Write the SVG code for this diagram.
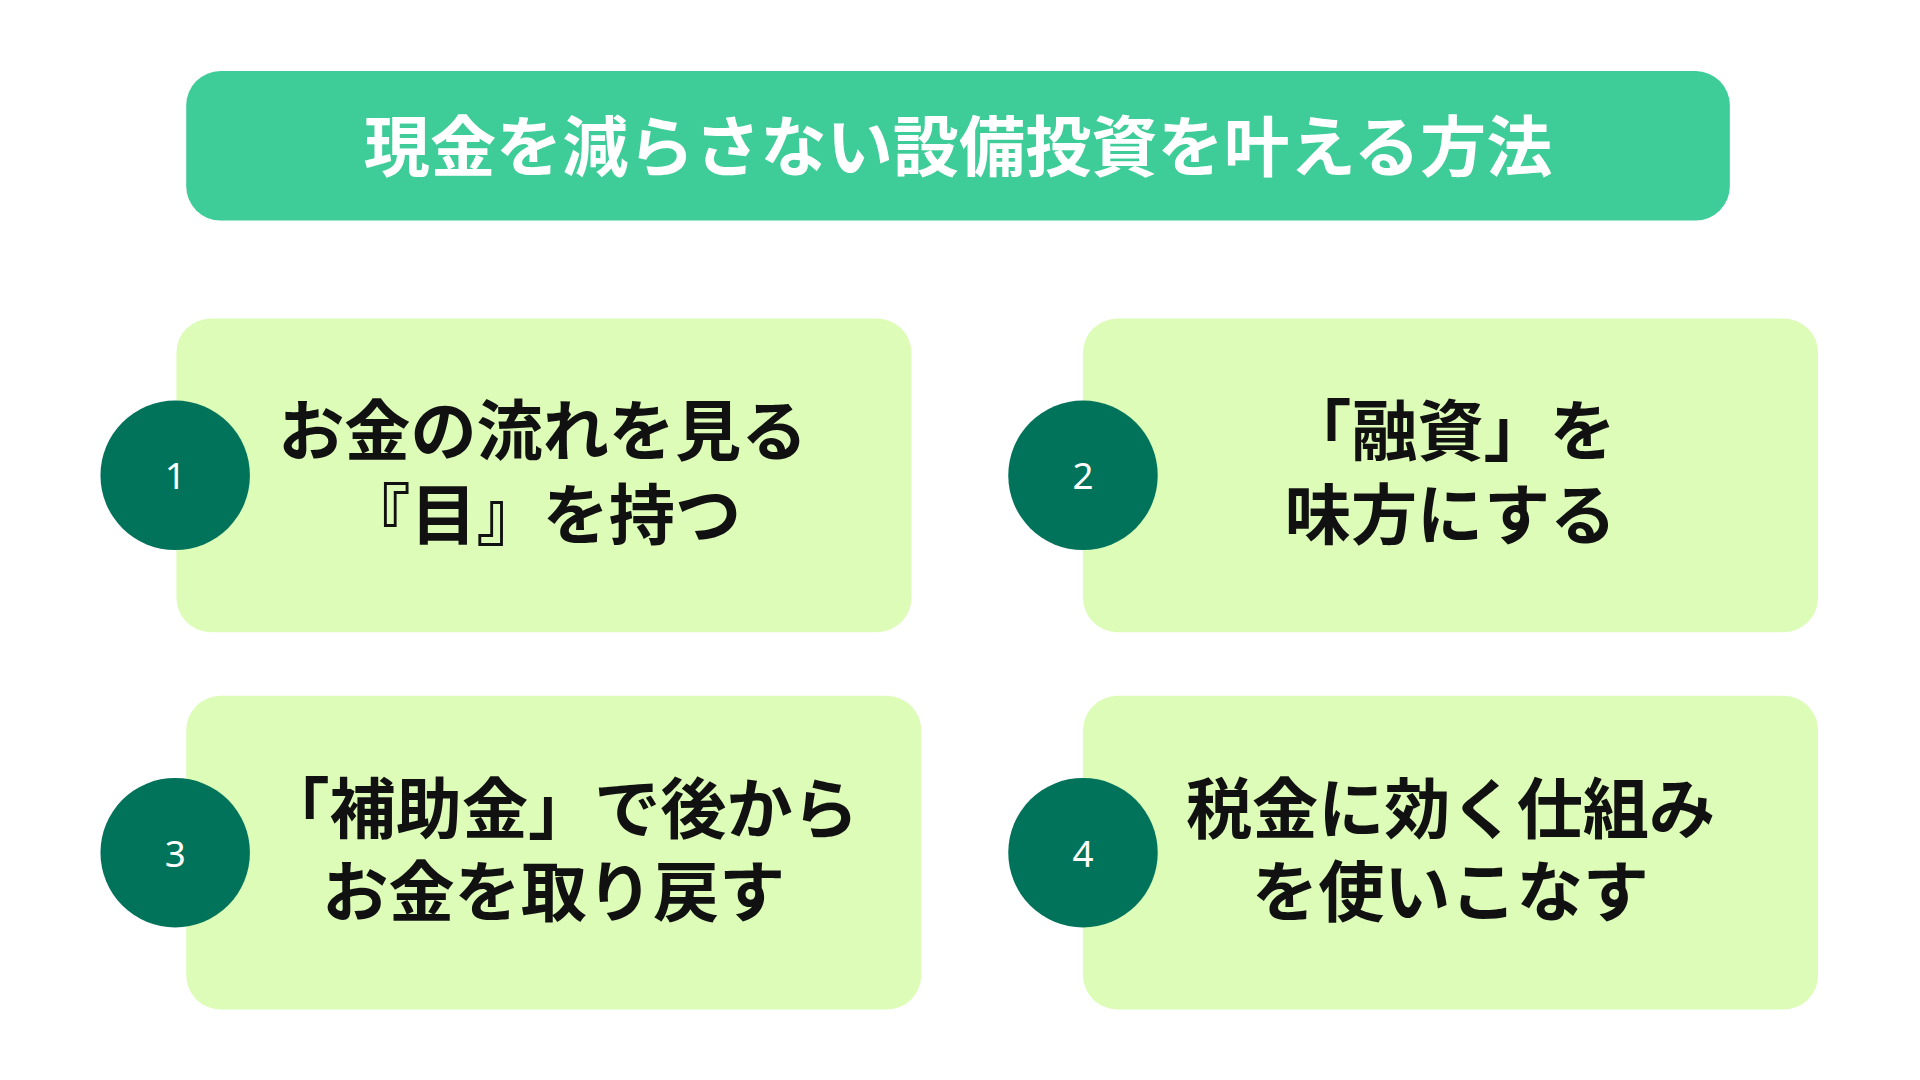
<svg xmlns="http://www.w3.org/2000/svg" width="1920" height="1080" viewBox="0 0 1920 1080">
<style>
.card{fill:#DDFCB8}
.num{fill:#00735A}
.nt{fill:#fff;font-family:"Noto Sans","Noto Sans CJK JP",sans-serif;font-size:30px;text-anchor:middle;dominant-baseline:central}
.t{fill:#111;font-family:"Noto Sans CJK JP",sans-serif;font-weight:700;font-size:54px;text-anchor:middle;dominant-baseline:central}
.h{fill:#fff;font-family:"Noto Sans CJK JP",sans-serif;font-weight:700;font-size:54px;text-anchor:middle;dominant-baseline:central}
</style>
<rect width="1920" height="1080" fill="#fff"/>
<g transform="scale(1.2251)">
<g id="title"><rect x="152" y="58" width="1260" height="122" rx="28" fill="#3ECC98"/><text class="h" x="782" y="116">現金を減らさない設備投資を叶える方法</text></g>
<g id="n1"><rect class="card" x="144" y="260" width="600" height="256" rx="28"/><circle class="num" cx="143" cy="388" r="61"/><text class="nt" x="143" y="388">1</text><text class="t" x="443" y="348">お金の流れを見る</text><text class="t" x="443" y="416">『目』を持つ</text></g>
<g id="n2"><rect class="card" x="884" y="260" width="600" height="256" rx="28"/><circle class="num" cx="884" cy="388" r="61"/><text class="nt" x="884" y="388">2</text><text class="t" x="1184" y="348">「融資」を</text><text class="t" x="1184" y="416">味方にする</text></g>
<g id="n3"><rect class="card" x="152" y="568" width="600" height="256" rx="28"/><circle class="num" cx="143" cy="696" r="61"/><text class="nt" x="143" y="696">3</text><text class="t" x="458" y="656">「補助金」で後から</text><text class="t" x="452" y="724">お金を取り戻す</text></g>
<g id="n4"><rect class="card" x="884" y="568" width="600" height="256" rx="28"/><circle class="num" cx="884" cy="696" r="61"/><text class="nt" x="884" y="696">4</text><text class="t" x="1184" y="656">税金に効く仕組み</text><text class="t" x="1184" y="724">を使いこなす</text></g>
<g id="connectors"/>
</g>
</svg>
